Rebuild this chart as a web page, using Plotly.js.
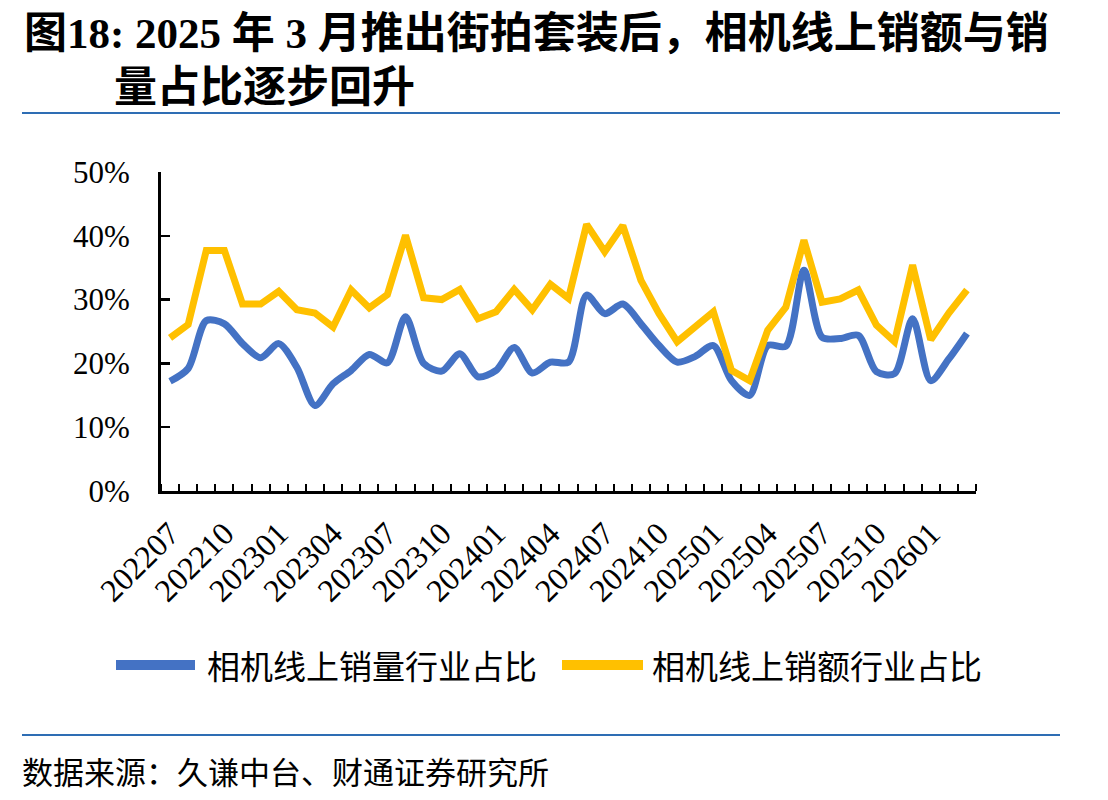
<!DOCTYPE html>
<html>
<head>
<meta charset="utf-8">
<script src="https://cdn.plot.ly/plotly-3.0.1.min.js"></script>
<style>html,body{margin:0;padding:0;background:#fff;}#chart{width:1108px;height:800px;}</style>
</head>
<body>
<div id="chart"></div>
<script>
// ---- data ----
const months = ["202207","202208","202209","202210","202211","202212","202301","202302","202303","202304","202305","202306","202307","202308","202309","202310","202311","202312","202401","202402","202403","202404","202405","202406","202407","202408","202409","202410","202411","202412","202501","202502","202503","202504","202505","202506","202507","202508","202509","202510","202511","202512","202601","202602","202603"];
const volumeShare = [17.2,19.2,26.7,26.2,23.1,20.9,23.1,19.4,13.4,16.8,18.9,21.4,20.1,27.3,20.0,18.8,21.5,17.9,18.9,22.5,18.5,20.2,20.2,30.7,27.8,29.3,26.2,22.8,20.2,21.1,22.8,17.3,15.0,22.8,22.7,34.6,24.1,23.9,24.4,18.7,18.4,27.0,17.3,20.7,24.7];
const valueShare = [24.0,26.1,37.7,37.7,29.3,29.3,31.3,28.4,27.9,25.7,31.5,28.7,30.8,40.1,30.3,30.0,31.6,27.0,28.1,31.6,28.4,32.4,30.2,41.8,37.5,41.6,33.0,27.8,23.4,25.7,28.1,18.9,17.3,25.2,28.8,39.3,29.6,30.1,31.5,26.0,23.4,35.4,23.7,27.9,31.5];
const seriesNames = ["相机线上销量行业占比","相机线上销额行业占比"];
const seriesColors = ["#4472C4","#FFC000"];
const tickStep = 3;
const titleLine1 = "<b>图18: 2025 年 3 月推出街拍套装后，相机线上销额与销</b>";
const titleLine2 = "<b>量占比逐步回升</b>";
const sourceText = "数据来源：久谦中台、财通证券研究所";

// ---- layout helpers (pixel -> paper) ----
const W = 1108, H = 800;
const L = 161, R = 976, T = 172, B = 491;
const px = x => (x - L) / (R - L);
const py = y => (B - y) / (B - T);

const idx = months.map((m, i) => i);
const tickvals = idx.filter(i => i % tickStep === 0);
const ticktext = tickvals.map(i => months[i]);

const serif = "Liberation Serif, Noto Sans CJK SC, serif";
const cjk = "Noto Sans CJK SC, sans-serif";

const traces = [
  {x: idx, y: volumeShare, name: seriesNames[0], type: "scatter", mode: "lines",
   line: {color: seriesColors[0], width: 7, shape: "spline", smoothing: 0.8}, showlegend: false},
  {x: idx, y: valueShare, name: seriesNames[1], type: "scatter", mode: "lines",
   line: {color: seriesColors[1], width: 7, shape: "linear"}, showlegend: false}
];

const sepColor = "#2E6DB4";
const shapes = [
  {type: "line", xref: "paper", yref: "paper", x0: px(22), x1: px(1060), y0: py(113), y1: py(113), line: {color: sepColor, width: 2}},
  {type: "line", xref: "paper", yref: "paper", x0: px(22), x1: px(1060), y0: py(735), y1: py(735), line: {color: sepColor, width: 2}},
  {type: "line", xref: "paper", yref: "paper", x0: px(116), x1: px(195), y0: py(665), y1: py(665), line: {color: seriesColors[0], width: 10}},
  {type: "line", xref: "paper", yref: "paper", x0: px(562), x1: px(643), y0: py(665), y1: py(665), line: {color: seriesColors[1], width: 10}}
];

const annotations = [
  {text: titleLine1, xref: "paper", yref: "paper", x: px(22), y: py(33), xanchor: "left", yanchor: "middle", showarrow: false,
   font: {family: serif, size: 43, color: "#000"}},
  {text: titleLine2, xref: "paper", yref: "paper", x: px(112), y: py(88), xanchor: "left", yanchor: "middle", showarrow: false,
   font: {family: serif, size: 43, color: "#000"}},
  {text: seriesNames[0], xref: "paper", yref: "paper", x: px(205), y: py(665), xanchor: "left", yanchor: "middle", showarrow: false,
   font: {family: cjk, size: 33, color: "#000"}},
  {text: seriesNames[1], xref: "paper", yref: "paper", x: px(650), y: py(665), xanchor: "left", yanchor: "middle", showarrow: false,
   font: {family: cjk, size: 33, color: "#000"}},
  {text: sourceText, xref: "paper", yref: "paper", x: px(20), y: py(770), xanchor: "left", yanchor: "middle", showarrow: false,
   font: {family: cjk, size: 31, color: "#000"}}
];

const layout = {
  width: W, height: H,
  margin: {l: L, r: W - R, t: T, b: H - B, pad: 0},
  paper_bgcolor: "#fff", plot_bgcolor: "#fff",
  showlegend: false,
  xaxis: {
    range: [-0.5, months.length - 0.5], tickmode: "array", tickvals: tickvals, ticktext: ticktext,
    tickangle: -45, ticks: "", showgrid: false, zeroline: false,
    showline: true, linecolor: "#000", linewidth: 3,
    tickfont: {family: serif, size: 32, color: "#000"}, ticklabelstandoff: 8,
    minor: {tickmode: "linear", tick0: -0.5, dtick: 1, ticks: "inside", ticklen: 7, tickwidth: 2, tickcolor: "#000", showgrid: false}
  },
  yaxis: {
    range: [0, 50], dtick: 10, tick0: 0, ticksuffix: "%", ticks: "inside", ticklen: 9, tickwidth: 2.5, tickcolor: "#000",
    showgrid: false, zeroline: false, showline: true, linecolor: "#000", linewidth: 3,
    tickfont: {family: serif, size: 31, color: "#000"}, ticklabelstandoff: 22
  },
  shapes: shapes,
  annotations: annotations
};

Plotly.newPlot("chart", traces, layout, {staticPlot: true, displayModeBar: false});
</script>
</body>
</html>
